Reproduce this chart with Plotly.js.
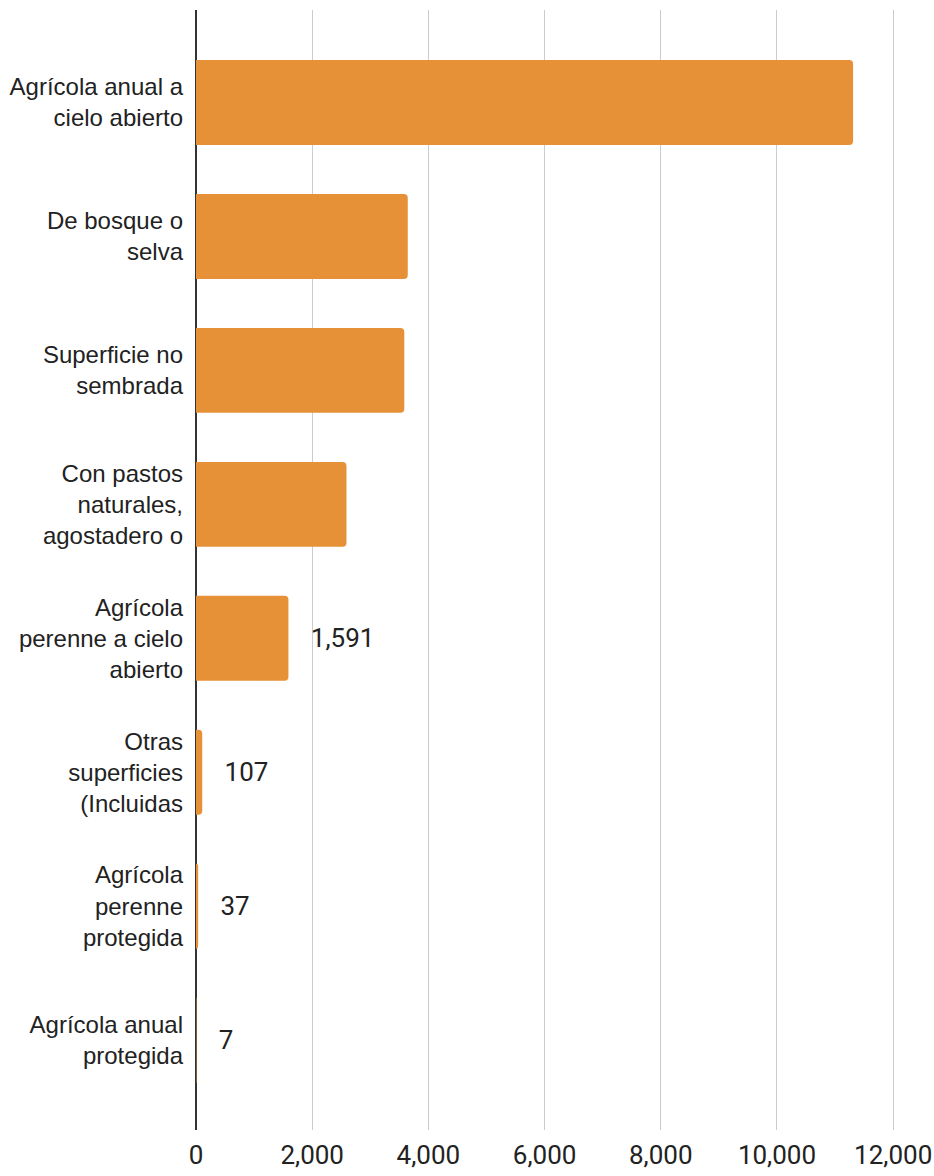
<!DOCTYPE html>
<html>
<head>
<meta charset="utf-8">
<script src="https://cdn.plot.ly/plotly-3.0.1.min.js"></script>
<style>html,body{margin:0;padding:0;background:#fff;}#chart{width:934px;height:1176px;}</style>
</head>
<body>
<div id="chart"></div>
<script>
const categories = [
  "Agrícola anual a<br>cielo abierto",
  "De bosque o<br>selva",
  "Superficie no<br>sembrada",
  "Con pastos<br>naturales,<br>agostadero o",
  "Agrícola<br>perenne a cielo<br>abierto",
  "Otras<br>superficies<br>(Incluidas",
  "Agrícola<br>perenne<br>protegida",
  "Agrícola anual<br>protegida"
];
const values = [11310, 3645, 3585, 2590, 1591, 107, 37, 7];
const valueLabels = ["", "", "", "", "1,591", "107", "37", "7"];
const xTickVals = [0, 2000, 4000, 6000, 8000, 10000, 12000];
const xTickText = ["0", "2,000", "4,000", "6,000", "8,000", "10,000", "12,000"];

const pad = "\u00a0\u00a0\u00a0";
const trace = {
  type: "bar",
  orientation: "h",
  x: values,
  y: categories.map((c, i) => i),
  text: valueLabels.map(t => t ? pad + t : ""),
  textposition: "outside",
  cliponaxis: false,
  constraintext: "none",
  textfont: {family: "Roboto, sans-serif", size: 26, color: "#222222"},
  marker: {color: "#E69138"},
  hoverinfo: "none"
};

const layout = {
  width: 934,
  height: 1176,
  margin: {l: 196, r: 35, t: 10, b: 46},
  paper_bgcolor: "#ffffff",
  plot_bgcolor: "#ffffff",
  showlegend: false,
  bargap: 0.366,
  barcornerradius: 4,
  xaxis: {
    range: [0, 12100],
    tickvals: xTickVals,
    ticktext: xTickText,
    showgrid: true,
    gridcolor: "#cccccc",
    gridwidth: 1,
    zeroline: true,
    zerolinecolor: "#333333",
    zerolinewidth: 2,
    showline: false,
    ticks: "",
    ticklabelstandoff: 7,
    tickfont: {family: "Roboto, sans-serif", size: 26, color: "#222222"}
  },
  yaxis: {
    range: [7.67, -0.69],
    tickmode: "array",
    tickvals: categories.map((c, i) => i),
    ticktext: categories,
    showgrid: false,
    zeroline: false,
    showline: false,
    ticks: "",
    ticklabelstandoff: 12,
    tickfont: {family: "'Liberation Sans', Arial, sans-serif", size: 24, color: "#222222"}
  }
};

Plotly.newPlot("chart", [trace], layout, {displayModeBar: false, staticPlot: true});
</script>
</body>
</html>
